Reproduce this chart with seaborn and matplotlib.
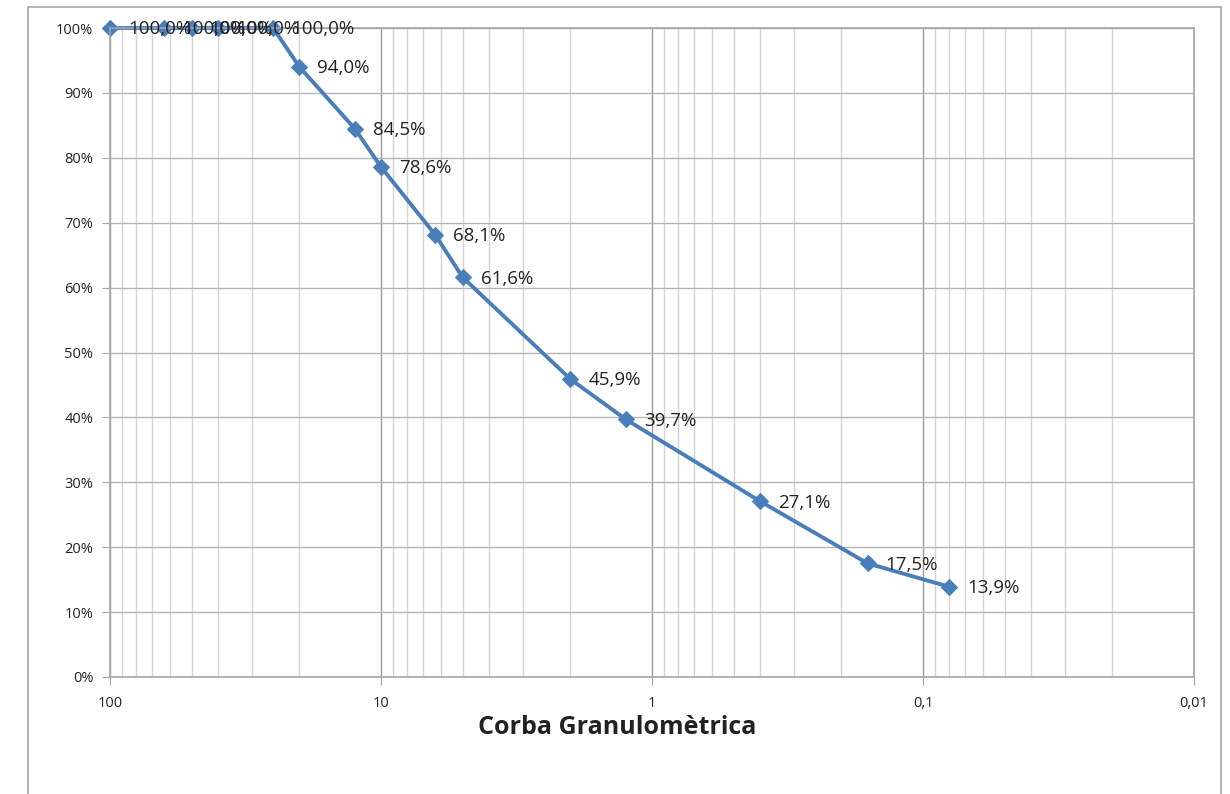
import numpy as np
import pandas as pd
import seaborn as sns
import matplotlib.pyplot as plt
from matplotlib.patches import Rectangle
from matplotlib.ticker import FixedLocator, FuncFormatter, LogLocator, NullFormatter

# sieve size (mm) and cumulative passing (%)
mida = [100, 63, 50, 40, 25, 20, 12.5, 10, 6.3, 5, 2, 1.25, 0.4, 0.16, 0.08]
passa = [100.0, 100.0, 100.0, 100.0, 100.0, 94.0, 84.5, 78.6, 68.1, 61.6, 45.9, 39.7, 27.1, 17.5, 13.9]
titol = 'Corba Granulomètrica'

df = pd.DataFrame({'mida': mida, 'passa': passa})

sns.set_style('white')
plt.rcParams['font.family'] = ['Open Sans', 'DejaVu Sans']

fig = plt.figure(figsize=(12.3, 7.94), dpi=100)
ax = fig.add_axes([110 / 1230, 1 - 677 / 794, 1084 / 1230, 649 / 794])

# outer chart border
fig.patches.append(Rectangle((28 / 1230, -0.05), 1193 / 1230, 1 - 7 / 794 + 0.05,
                             transform=fig.transFigure, fill=False,
                             edgecolor='#a6a6a6', linewidth=1.2))

blau = '#4a7ebb'
sns.lineplot(data=df, x='mida', y='passa', ax=ax, color=blau, linewidth=2.8,
             marker='D', markersize=8.5, markeredgecolor=blau, sort=False)
for ln in ax.lines:
    ln.set_clip_on(False)

ax.set_xscale('log')
ax.set_xlim(100, 0.01)
ax.set_ylim(0, 100)

ax.xaxis.set_major_locator(FixedLocator([100, 10, 1, 0.1, 0.01]))
ax.xaxis.set_minor_locator(LogLocator(base=10, subs=np.arange(2, 10)))
ax.xaxis.set_minor_formatter(NullFormatter())
ax.xaxis.set_major_formatter(FuncFormatter(lambda v, p: f'{v:g}'.replace('.', ',')))
ax.set_yticks(np.arange(0, 101, 10))
ax.yaxis.set_major_formatter(FuncFormatter(lambda v, p: f'{v:.0f}%'))

ax.grid(True, which='major', axis='x', color='#9a9a9a', linewidth=1)
ax.grid(True, which='minor', axis='x', color='#d3d3d3', linewidth=1)
ax.grid(True, which='major', axis='y', color='#b5b5b5', linewidth=1)
ax.set_axisbelow(True)
for s in ax.spines.values():
    s.set_color('#a6a6a6')
    s.set_linewidth(1.2)

ax.tick_params(axis='both', which='major', direction='out', length=6, color='#a6a6a6',
               labelsize=10.5, labelcolor='#222222', left=True, bottom=True)
ax.tick_params(axis='x', which='minor', length=0)
ax.tick_params(axis='x', pad=8)
ax.tick_params(axis='y', pad=6)

for x, y in zip(mida, passa):
    ax.annotate(f'{y:.1f}%'.replace('.', ','), (x, y), xytext=(13, -1),
                textcoords='offset points', va='center', ha='left',
                fontsize=13.5, color='#222222')

ax.set_xlabel(titol, fontsize=18, fontweight='bold', color='#222222')
ax.xaxis.label.set_va('center')
ax.xaxis.set_label_coords((617 - 110) / 1084, (677 - 727) / 649)
ax.set_ylabel('')

fig.savefig('out.png', dpi=100)
